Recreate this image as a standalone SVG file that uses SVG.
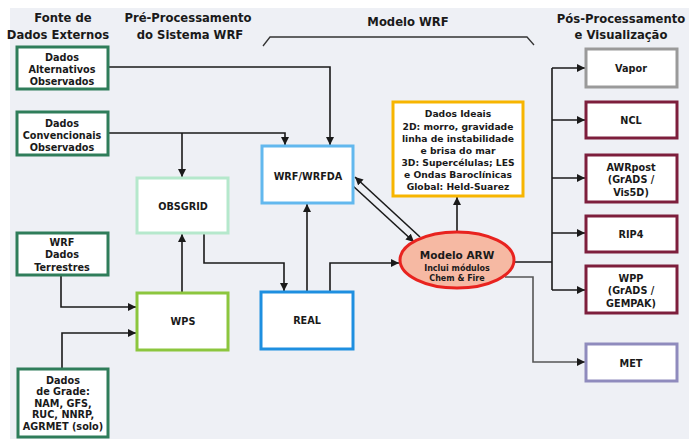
<svg xmlns="http://www.w3.org/2000/svg" width="689" height="439" viewBox="0 0 689 439">
<defs>
<marker id="ah" viewBox="0 0 10 10" refX="10" refY="5" markerWidth="8" markerHeight="8" markerUnits="userSpaceOnUse" orient="auto">
<path d="M0,0 L10,5 L0,10 z" fill="#1a1a1a"/>
</marker>
</defs>
<style>
text{font-family:"DejaVu Sans","Liberation Sans",sans-serif;font-weight:bold;fill:#1a1a1a;text-anchor:middle;dominant-baseline:central}
.h{font-size:11.6px}
.t{font-size:9.7px}
.i{font-size:9.2px}
.b{fill:#fff;stroke-width:3}
.c{fill:none;stroke:#1a1a1a;stroke-width:1.6}
</style>
<rect x="0" y="0" width="689" height="439" fill="#fff"/>
<rect x="10" y="8" width="679" height="431" fill="#eef0f5"/>

<g id="headers">
<text class="h" x="63" y="18">Fonte de</text>
<text class="h" x="58" y="35">Dados Externos</text>
<text class="h" x="188" y="18">Pré-Processamento</text>
<text class="h" x="190" y="35">do Sistema WRF</text>
<text class="h" x="408" y="22">Modelo WRF</text>
<text class="h" x="621" y="19">Pós-Processamento</text>
<text class="h" x="621" y="35">e Visualização</text>
<path d="M263,46 L270,37 L527,37 L534,45" fill="none" stroke="#333" stroke-width="1.3"/>
</g>

<g id="connectors">
<path class="c" d="M108,67 H330 V145" marker-end="url(#ah)"/>
<path class="c" d="M108,133 H285 V145" marker-end="url(#ah)"/>
<path class="c" d="M182,133 V177" marker-end="url(#ah)"/>
<path class="c" d="M182,293 V234" marker-end="url(#ah)"/>
<path class="c" d="M204,233 V263 H284 V291" marker-end="url(#ah)"/>
<path class="c" d="M307,292 V204" marker-end="url(#ah)"/>
<path class="c" d="M330,292 V263 H399" marker-end="url(#ah)"/>
<path class="c" d="M420,237 L355,177" marker-end="url(#ah)"/>
<path class="c" d="M353,186 L414,242" marker-end="url(#ah)"/>
<path class="c" d="M457,232 V197" marker-end="url(#ah)"/>
<path class="c" d="M514,262 H552"/>
<path class="c" d="M552,68 V290"/>
<path class="c" d="M552,68 H585" marker-end="url(#ah)"/>
<path class="c" d="M552,120 H585" marker-end="url(#ah)"/>
<path class="c" d="M552,178 H585" marker-end="url(#ah)"/>
<path class="c" d="M552,233 H585" marker-end="url(#ah)"/>
<path class="c" d="M552,290 H585" marker-end="url(#ah)"/>
<path class="c" d="M505,277 H533 V362 H585" style="stroke:#555" marker-end="url(#ah)"/>
<path class="c" d="M61,275 V307 H136" marker-end="url(#ah)"/>
<path class="c" d="M62,369 V333 H136" marker-end="url(#ah)"/>
</g>

<g id="alt">
<rect class="b" x="17" y="47" width="91" height="42" stroke="#2f7d5a"/>
<text class="t" x="62" y="57">Dados</text>
<text class="t" x="62" y="69">Alternativos</text>
<text class="t" x="62" y="81">Observados</text>
</g>
<g id="conv">
<rect class="b" x="17" y="112" width="91" height="43" stroke="#2f7d5a"/>
<text class="t" x="62" y="123">Dados</text>
<text class="t" x="62" y="135">Convencionais</text>
<text class="t" x="62" y="147">Observados</text>
</g>
<g id="terr">
<rect class="b" x="17" y="233" width="91" height="42" stroke="#2f7d5a"/>
<text class="t" x="62" y="242">WRF</text>
<text class="t" x="62" y="254">Dados</text>
<text class="t" x="62" y="267">Terrestres</text>
</g>
<g id="grade">
<rect class="b" x="18" y="369" width="90" height="68" stroke="#2f7d5a"/>
<text class="t" x="63" y="380">Dados</text>
<text class="t" x="63" y="391">de Grade:</text>
<text class="t" x="63" y="403">NAM, GFS,</text>
<text class="t" x="63" y="414">RUC, NNRP,</text>
<text class="t" x="63" y="426">AGRMET (solo)</text>
</g>

<g id="obsgrid">
<rect class="b" x="137" y="178" width="91" height="55" stroke="#b5e8cc"/>
<text class="t" x="183" y="206">OBSGRID</text>
</g>
<g id="wps">
<rect class="b" x="137" y="293" width="91" height="57" stroke="#8cc63e"/>
<text class="t" x="183" y="321">WPS</text>
</g>
<g id="wrfda">
<rect class="b" x="262" y="146" width="91" height="57" stroke="#62b8ee"/>
<text class="t" x="308" y="176">WRF/WRFDA</text>
</g>
<g id="real">
<rect class="b" x="261" y="292" width="92" height="57" stroke="#1e8fe0"/>
<text class="t" x="307" y="320">REAL</text>
</g>

<g id="ideais">
<rect class="b" x="393" y="102" width="130" height="94" stroke="#f7b500"/>
<text class="i" x="458" y="113">Dados Ideais</text>
<text class="i" x="458" y="126">2D: morro, gravidade</text>
<text class="i" x="458" y="138">linha de instabilidade</text>
<text class="i" x="458" y="150">e brisa do mar</text>
<text class="i" x="458" y="162">3D: Supercélulas; LES</text>
<text class="i" x="458" y="174">e Ondas Baroclínicas</text>
<text class="i" x="458" y="186">Global: Held-Suarez</text>
</g>

<g id="arw">
<ellipse cx="457" cy="260" rx="57" ry="28" fill="#f6b9a3" stroke="#e8231f" stroke-width="3"/>
<text x="457" y="255" style="font-size:10.5px">Modelo ARW</text>
<text x="457" y="268" style="font-size:8px">Inclui módulos</text>
<text x="457" y="278" style="font-size:8px">Chem &amp; Fire</text>
</g>

<g id="vapor">
<rect class="b" x="586" y="49" width="91" height="38" stroke="#9a9a9a"/>
<text class="t" x="631" y="68">Vapor</text>
</g>
<g id="ncl">
<rect class="b" x="586" y="102" width="91" height="36" stroke="#7d1e3c"/>
<text class="t" x="631" y="120">NCL</text>
</g>
<g id="awrpost">
<rect class="b" x="586" y="155" width="91" height="47" stroke="#7d1e3c"/>
<text class="t" x="631" y="167">AWRpost</text>
<text class="t" x="631" y="179">(GrADS /</text>
<text class="t" x="631" y="192">Vis5D)</text>
</g>
<g id="rip4">
<rect class="b" x="586" y="216" width="91" height="36" stroke="#7d1e3c"/>
<text class="t" x="631" y="234">RIP4</text>
</g>
<g id="wpp">
<rect class="b" x="586" y="266" width="91" height="47" stroke="#7d1e3c"/>
<text class="t" x="631" y="278">WPP</text>
<text class="t" x="631" y="290">(GrADS /</text>
<text class="t" x="631" y="303">GEMPAK)</text>
</g>
<g id="met">
<rect class="b" x="586" y="344" width="91" height="37" stroke="#8f8bbd"/>
<text class="t" x="631" y="363">MET</text>
</g>
</svg>
